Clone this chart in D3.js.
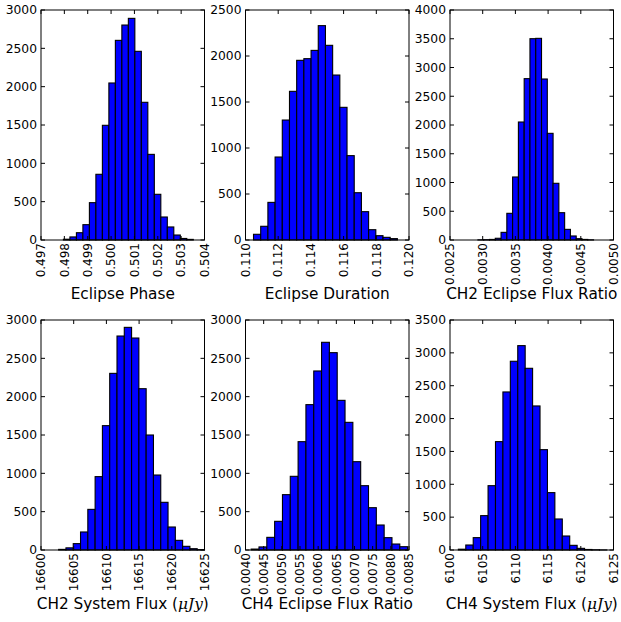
<!DOCTYPE html>
<html>
<head>
<meta charset="utf-8">
<script src="https://cdn.jsdelivr.net/npm/d3@7"></script>
<style>
  body { margin: 0; background: #fff; }
  text { font-family: "DejaVu Sans", sans-serif; fill: #000; }
</style>
</head>
<body>
<div id="chart"></div>
<script>
// histogram counts (20 bins each)
const phaseCounts = [10, 40, 95, 200, 487, 857, 1496, 2048, 2604, 2804, 2891, 2461, 1796, 1117, 596, 300, 170, 65, 20, 8];
const durationCounts = [62, 149, 409, 902, 1304, 1616, 1953, 1971, 2061, 2330, 2116, 1793, 1442, 917, 514, 308, 112, 47, 29, 15];
const ch2RatioCounts = [3, 5, 10, 30, 133, 464, 1096, 2052, 2806, 3501, 3507, 2800, 1855, 986, 475, 185, 70, 23, 10, 3];
const ch2FluxCounts = [8, 28, 83, 235, 530, 957, 1622, 2304, 2791, 2904, 2765, 2104, 1500, 978, 622, 300, 126, 48, 17, 5];
const ch4RatioCounts = [12, 40, 165, 374, 722, 961, 1413, 1896, 2335, 2709, 2574, 1952, 1665, 1152, 839, 552, 326, 161, 78, 43];
const ch4FluxCounts = [12, 76, 188, 523, 979, 1649, 2405, 2872, 3110, 2765, 2192, 1527, 873, 472, 213, 71, 25, 8, 3, 1];

// left edge of first bin and bin width
const binStarts = [0.49796, 0.11049, 0.002927, 16602.7, 0.004156, 6101.28];
const binWidths = [0.000278, 0.00044, 0.0000884, 1.115, 0.0002153, 1.135];

const xDomains = [[0.497, 0.504], [0.110, 0.120], [0.0025, 0.0050], [16600, 16625], [0.0040, 0.0085], [6100, 6125]];
const yMaxes = [3000, 2500, 4000, 3000, 3000, 3500];

const xTicks = [
  [0.497, 0.498, 0.499, 0.500, 0.501, 0.502, 0.503, 0.504],
  [0.110, 0.112, 0.114, 0.116, 0.118, 0.120],
  [0.0025, 0.0030, 0.0035, 0.0040, 0.0045, 0.0050],
  [16600, 16605, 16610, 16615, 16620, 16625],
  [0.0040, 0.0045, 0.0050, 0.0055, 0.0060, 0.0065, 0.0070, 0.0075, 0.0080, 0.0085],
  [6100, 6105, 6110, 6115, 6120, 6125]
];
const xFormats = ['.3f', '.3f', '.4f', 'd', '.4f', 'd'];
const yTickSteps = [500, 500, 500, 500, 500, 500];

const labels = ['Eclipse Phase', 'Eclipse Duration', 'CH2 Eclipse Flux Ratio',
  'CH2 System Flux', 'CH4 Eclipse Flux Ratio', 'CH4 System Flux'];
const unitLabel = [false, false, false, true, false, true];

const allCounts = [phaseCounts, durationCounts, ch2RatioCounts, ch2FluxCounts, ch4RatioCounts, ch4FluxCounts];

const width = 621, height = 622;
const panelLefts = [41, 245.5, 450];
const panelTops = [10, 320];
const pw = 163.5, ph = 230;

const svg = d3.select('#chart').append('svg')
  .attr('width', width)
  .attr('height', height);

allCounts.forEach((counts, i) => {
  const left = panelLefts[i % 3];
  const top = panelTops[Math.floor(i / 3)];
  const g = svg.append('g').attr('transform', `translate(${left},${top})`);

  const x = d3.scaleLinear().domain(xDomains[i]).range([0, pw]);
  const y = d3.scaleLinear().domain([0, yMaxes[i]]).range([ph, 0]);

  const bins = counts.map((c, k) => ({
    x0: binStarts[i] + k * binWidths[i],
    x1: binStarts[i] + (k + 1) * binWidths[i],
    count: c
  }));

  g.selectAll('rect.bar')
    .data(bins)
    .enter()
    .append('rect')
    .attr('class', 'bar')
    .attr('x', d => x(d.x0))
    .attr('width', d => x(d.x1) - x(d.x0))
    .attr('y', d => y(d.count))
    .attr('height', d => ph - y(d.count))
    .attr('fill', '#0000ff')
    .attr('stroke', '#000')
    .attr('stroke-width', 1.1);

  const yTicks = d3.range(0, yMaxes[i] + 1, yTickSteps[i]);
  const fmt = d3.format(xFormats[i]);

  // ticks inward, on all four sides
  const tickLen = 4;
  g.selectAll('line.xtb').data(xTicks[i]).enter().append('line')
    .attr('x1', d => x(d)).attr('x2', d => x(d))
    .attr('y1', ph).attr('y2', ph - tickLen)
    .attr('stroke', '#000');
  g.selectAll('line.xtt').data(xTicks[i]).enter().append('line')
    .attr('x1', d => x(d)).attr('x2', d => x(d))
    .attr('y1', 0).attr('y2', tickLen)
    .attr('stroke', '#000');
  g.selectAll('line.ytl').data(yTicks).enter().append('line')
    .attr('x1', 0).attr('x2', tickLen)
    .attr('y1', d => y(d)).attr('y2', d => y(d))
    .attr('stroke', '#000');
  g.selectAll('line.ytr').data(yTicks).enter().append('line')
    .attr('x1', pw).attr('x2', pw - tickLen)
    .attr('y1', d => y(d)).attr('y2', d => y(d))
    .attr('stroke', '#000');

  g.append('rect')
    .attr('width', pw).attr('height', ph)
    .attr('fill', 'none').attr('stroke', '#000').attr('stroke-width', 1);

  g.selectAll('text.yl').data(yTicks).enter().append('text')
    .attr('x', -4)
    .attr('y', d => y(d))
    .attr('dy', '0.35em')
    .attr('text-anchor', 'end')
    .style('font-size', '12.3px')
    .text(d => d);

  g.selectAll('text.xl').data(xTicks[i]).enter().append('text')
    .attr('transform', d => `translate(${x(d)},${ph + 3}) rotate(-90)`)
    .attr('dy', '0.35em')
    .attr('text-anchor', 'end')
    .style('font-size', '12px')
    .text(d => fmt(d));

  const lab = g.append('text')
    .attr('x', pw / 2)
    .attr('y', ph + 59)
    .attr('text-anchor', 'middle')
    .style('font-size', '15.3px')
    .text(labels[i]);
  if (unitLabel[i]) {
    lab.append('tspan').text(' (');
    lab.append('tspan')
      .style('font-family', '"DejaVu Serif", serif')
      .style('font-style', 'italic')
      .text('μJy');
    lab.append('tspan').text(')');
  }
});
</script>
</body>
</html>
